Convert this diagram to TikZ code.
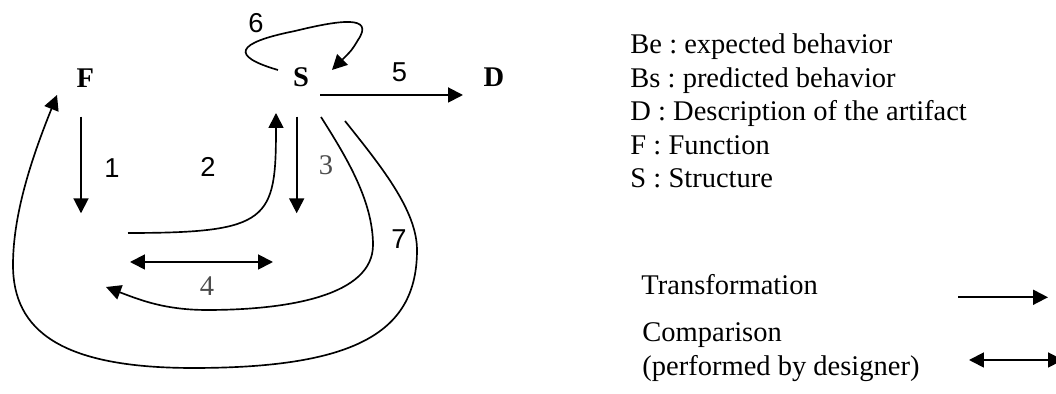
\documentclass[tikz,border=0pt]{standalone}
\usepackage{fontspec}
\setmainfont{Liberation Serif}
\newfontfamily\arialfont{Liberation Sans}
\usetikzlibrary{arrows.meta}

\tikzset{
    trans/.style={line width=0.8pt, -{Triangle[length=6.3pt,width=6.3pt]}},
    comp/.style={line width=0.8pt, {Triangle[length=6.3pt,width=6.3pt]}-{Triangle[length=6.3pt,width=6.3pt]}},
    curvearrow/.style={line width=0.7pt, -{Triangle[length=6.3pt,width=6.3pt]}},
    letter/.style={font=\fontsize{12}{14}\selectfont\bfseries, inner sep=0pt},
    num/.style={font=\arialfont\fontsize{11.5}{14}\selectfont, inner sep=0pt},
    numserif/.style={font=\fontsize{12}{14}\selectfont, text=black!70, inner sep=0pt},
    legend/.style={font=\fontsize{12}{14}\selectfont\frenchspacing, anchor=base west, inner sep=0pt},
}

\begin{document}
\begin{tikzpicture}[x=4.21pt, y=-4.21pt]
    \useasboundingbox (0,0) rectangle (105.6,39.4);

    % Function, structure, description
    \node[letter] (F) at (8.53,7.77) {F};
    \node[letter] (S) at (30.1,7.77) {S};
    \node[letter] (D) at (49.4,7.7) {D};

    % Arrow ends
    \coordinate (a1) at (8.1,11.67);   \coordinate (b1) at (8.1,21.33);
    \coordinate (a2) at (12.8,23.3);   \coordinate (b2) at (27.6,11.3);
    \coordinate (a3) at (29.67,11.67); \coordinate (b3) at (29.67,21.33);
    \coordinate (a4) at (13.0,26.2);   \coordinate (b4) at (27.3,26.2);
    \coordinate (a5) at (32.0,9.5);    \coordinate (b5) at (46.3,9.5);
    \coordinate (a6) at (27.8,7.0);    \coordinate (b6) at (33.2,7.0);
    \coordinate (a7) at (34.5,12.1);   \coordinate (b7) at (5.7,9.5);
    \coordinate (a8) at (32.1,11.7);   \coordinate (b8) at (10.6,28.7);

    % Straight arrows
    \draw[trans] (a1) -- (b1);
    \draw[trans] (a3) -- (b3);
    \draw[trans] (a5) -- (b5);
    \draw[comp] (a4) -- (b4);

    % Curved arrows
    \draw[curvearrow] (a2) .. controls (27,23.3) and (27.6,22) .. (b2);
    \draw[curvearrow] (a6) .. controls (23,5.6) and (23.5,4.3) .. (29.5,3.1)
        .. controls (34,2) and (37.5,1.5) .. (35.8,4.0)
        .. controls (35.2,5.0) .. (b6);
    \draw[curvearrow] (a8) .. controls (34.5,15.5) and (37.3,20) .. (37.3,24.5)
        .. controls (37.3,29.5) and (29,31) .. (20.7,31.0)
        .. controls (16.5,31) and (14,30) .. (b8);
    \draw[curvearrow] (a7) .. controls (38,16.5) and (41.7,21) .. (41.7,25)
        .. controls (41.7,33) and (36,36.8) .. (19.3,36.8)
        .. controls (6,36.8) and (1.3,33) .. (1.3,26.5)
        .. controls (1.3,21) and (3.5,15) .. (b7);

    % Numbers
    \node[num] (n1) at (11.2,16.8) {1};
    \node[num] (n2) at (20.8,16.7) {2};
    \node[numserif] (n3) at (32.6,16.5) {3};
    \node[numserif] (n4) at (20.7,28.6) {4};
    \node[num] (n5) at (39.95,7.2) {5};
    \node[num] (n6) at (25.6,2.3) {6};
    \node[num] (n7) at (39.9,23.9) {7};

    % Key
    \foreach \txt [count=\i] in {Be : expected behavior, Bs : predicted behavior,
        D : Description of the artifact, F : Function, S : Structure}
        \node[legend] (key\i) at (63.0,2.05+3.35*\i) {\txt};

    \node[legend] (tr) at (64.1,29.5) {Transformation};
    \node[legend] (cmp) at (64.2,34.2) {Comparison};
    \node[legend] (cmpby) at (64.2,37.55) {(performed by designer)};

    \coordinate (tr1) at (95.8,29.73);  \coordinate (tr2) at (104.8,29.73);
    \coordinate (cp1) at (96.9,36.0);   \coordinate (cp2) at (106.3,36.0);
    \draw[trans] (tr1) -- (tr2);
    \draw[comp] (cp1) -- (cp2);
\end{tikzpicture}
\end{document}
